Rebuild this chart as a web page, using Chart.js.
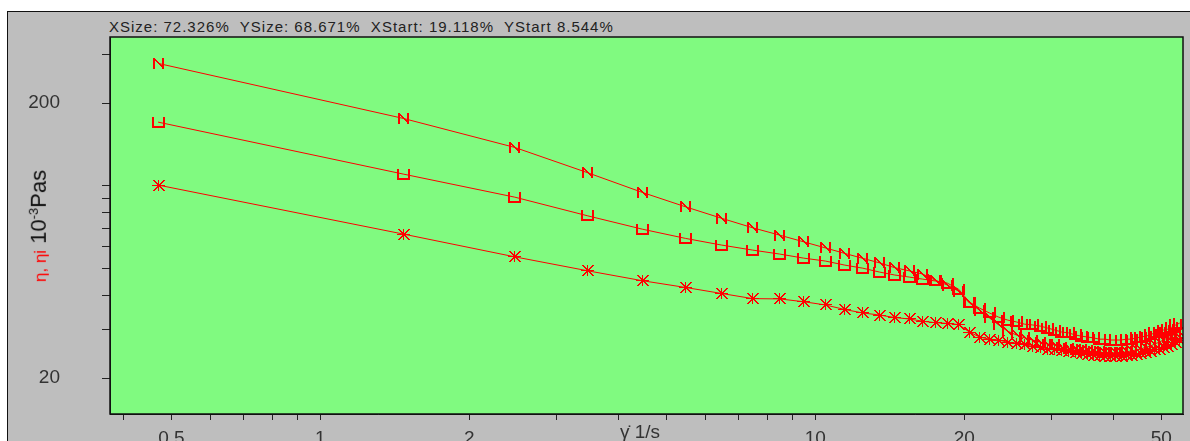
<!DOCTYPE html>
<html>
<head>
<meta charset="utf-8">
<script src="https://cdn.jsdelivr.net/npm/chart.js@4"></script>
<style>
  body { margin: 0; width: 1190px; height: 441px; overflow: hidden; background: #fff; position: relative;
         font-family: "Liberation Sans", Arial, sans-serif; }
  #panel { position: absolute; left: 7px; top: 11px; width: 1183px; height: 430px; background: #bebebe;
           border-top: 1px solid #111; border-left: 1px solid #111; }
  #chart { position: absolute; left: 0; top: 0; }
  #info { position: absolute; left: 109px; top: 18px; font-size: 15px; line-height: 17px; letter-spacing: 1px;
          color: #222; white-space: pre; }
  #ytitle { position: absolute; left: 39px; top: 226px; transform: translate(-50%, -50%) rotate(-90deg);
            white-space: nowrap; color: #111; font-size: 22px; }
  #ytitle .eta { color: #f00; font-size: 17px; }
  #ytitle sup { font-size: 13px; }
  #xtitle { position: absolute; left: 620px; top: 421px; font-size: 19px; color: #333; white-space: nowrap; }
</style>
</head>
<body>
<div id="panel"></div>
<div id="info">XSize: 72.326%  YSize: 68.671%  XStart: 19.118%  YStart 8.544%</div>
<canvas id="chart" width="1190" height="441"></canvas>
<div id="ytitle"><span class="eta">η, ηi</span> 10<sup>-3</sup>Pas</div>
<div id="xtitle">γ̇ 1/s</div>
<script>
// shear rate steps, 1/s
const shearRate = [0.47, 1.47, 2.47, 3.47, 4.47, 5.47, 6.47, 7.47, 8.47, 9.47,
  10.47, 11.47, 12.47, 13.47, 14.47, 15.47, 16.47, 17.47, 18.47, 19.47,
  20.47, 21.47, 22.47, 23.47, 24.47, 25.47, 26.47, 27.47, 28.47, 29.47,
  30.47, 31.47, 32.47, 33.47, 34.47, 35.47, 36.47, 37.47, 38.47, 39.47,
  40.47, 41.47, 42.47, 43.47, 44.47, 45.47, 46.47, 47.47, 48.47, 49.47,
  50.47, 51.47, 52.47, 53.47, 54.47];

// viscosity, 10^-3 Pas
const etaN = [279, 176, 138, 111.6, 94.7, 83.9, 76.2, 70.4, 66.2, 62.6,
  59.5, 56.8, 54.5, 52.5, 50.4, 49.1, 47.8, 45.4, 43.6, 41.4,
  37.5, 35.3, 33.1, 31.2, 29.6, 28.7, 28.0, 27.5, 27.0, 26.6,
  26.4, 25.9, 25.7, 25.5, 25.3, 25.1, 24.9, 24.9, 24.7, 24.7,
  24.7, 24.7, 24.9, 25.1, 25.3, 25.5, 25.9, 26.1, 26.6, 27.0,
  27.5, 28.0, 28.4, 29.0, 29.4];

const etaU = [170.6, 110.4, 91.0, 77.8, 69.6, 64.4, 60.9, 58.4, 56.5, 54.6,
  53.3, 51.5, 50.2, 48.6, 47.4, 46.6, 45.8, 45.1, 44.3, 42.1,
  37.8, 35.9, 34.5, 33.3, 32.5, 32.0, 31.4, 31.2, 30.9, 30.4,
  29.9, 29.4, 29.2, 28.7, 28.4, 28.2, 28.0, 27.7, 27.7, 27.5,
  27.5, 27.5, 27.7, 27.7, 28.0, 28.2, 28.4, 28.7, 29.2, 29.4,
  29.9, 30.1, 30.6, 31.2, 31.7];

const etaStar = [100.7, 66.8, 55.2, 49.1, 45.2, 42.7, 40.6, 38.9, 38.8, 37.9,
  36.9, 35.5, 34.5, 33.9, 33.2, 32.8, 32.2, 31.8, 31.6, 31.3,
  29.4, 28.2, 27.7, 27.5, 27.0, 26.8, 26.4, 26.1, 25.9, 25.5,
  25.3, 25.1, 24.9, 24.7, 24.5, 24.3, 24.1, 24.1, 23.9, 23.9,
  23.9, 23.9, 24.1, 24.1, 24.3, 24.5, 24.7, 24.9, 25.3, 25.5,
  25.9, 26.1, 26.6, 27.0, 27.5];

const xTicks = [0.4, 0.5, 0.6, 0.7, 0.8, 0.9, 1, 2, 3, 4, 5, 6, 7, 8, 9, 10, 20, 30, 40, 50];
const xLabels = [0.5, 1, 2, 10, 20, 50];
const yTicks = [20, 30, 40, 50, 60, 70, 80, 90, 100, 200, 300];
const yLabels = [200, 20];

const RED = "#ff0000";
const PLOT_BG = "rgb(128, 250, 128)";

// marker bitmaps drawn pixel by pixel so they stay solid red
function makeMarker(w, h, draw) {
  const c = document.createElement("canvas");
  c.width = w;
  c.height = h;
  const g = c.getContext("2d");
  g.fillStyle = RED;
  draw((x, y, pw, ph) => g.fillRect(x, y, pw || 1, ph || 1));
  return c;
}

const markerN = makeMarker(11, 11, px => {
  px(0, 0, 2, 11);
  px(9, 0, 2, 11);
  for (let i = 0; i < 10; i++) px(i, i, 2, 1);
});

const markerU = makeMarker(13, 11, px => {
  px(0, 0, 2, 11);
  px(11, 0, 2, 11);
  px(0, 9, 13, 2);
});

const markerStar = makeMarker(13, 13, px => {
  px(0, 6, 13, 1);
  px(6, 1, 1, 11);
  for (let i = 1; i < 12; i++) {
    px(i, i, 2, 1);
    px(i, 12 - i, 2, 1);
  }
  px(5, 5, 3, 3);
});

function serie(values, marker) {
  return {
    data: shearRate.map((x, i) => ({ x: x, y: values[i] })),
    borderColor: RED,
    borderWidth: 1,
    pointStyle: marker,
    pointRadius: 5,
    tension: 0,
    fill: false
  };
}

// green plot area and black frame
const plotFrame = {
  id: "plotFrame",
  beforeDraw(chart) {
    const a = chart.chartArea;
    const ctx = chart.ctx;
    ctx.save();
    ctx.fillStyle = PLOT_BG;
    ctx.fillRect(a.left, a.top, a.right - a.left, a.bottom - a.top);
    ctx.restore();
  },
  beforeDatasetsDraw(chart) {
    chart.ctx.imageSmoothingEnabled = false;
  },
  afterDraw(chart) {
    const a = chart.chartArea;
    const ctx = chart.ctx;
    ctx.save();
    ctx.strokeStyle = "#111";
    ctx.lineWidth = 1.5;
    ctx.strokeRect(a.left, a.top, a.right - a.left, a.bottom - a.top);
    ctx.restore();
  }
};

// fixed axis sizes, no extra room for end labels
function fitX(s) {
  s.height = 27;
  s.paddingLeft = 0;
  s.paddingRight = 0;
  s.paddingTop = 0;
  s.paddingBottom = 0;
}
function fitY(s) {
  s.width = 110;
  s.paddingLeft = 0;
  s.paddingRight = 0;
  s.paddingTop = 0;
  s.paddingBottom = 0;
}

Chart.defaults.font.family = '"Liberation Sans", Arial, sans-serif';

new Chart(document.getElementById("chart"), {
  type: "line",
  data: {
    datasets: [serie(etaN, markerN), serie(etaU, markerU), serie(etaStar, markerStar)]
  },
  options: {
    responsive: false,
    animation: false,
    layout: { padding: { top: 37, right: 7, left: 0, bottom: 0 } },
    plugins: { legend: { display: false }, tooltip: { enabled: false } },
    scales: {
      x: {
        type: "logarithmic",
        min: 0.3758,
        max: 55.3,
        afterFit: fitX,
        afterBuildTicks: s => { s.ticks = xTicks.map(v => ({ value: v })); },
        ticks: {
          autoSkip: false,
          maxRotation: 0,
          padding: 7,
          color: "#333",
          font: { size: 19 },
          callback: v => xLabels.includes(v) ? String(v) : ""
        },
        grid: { drawOnChartArea: false, tickLength: 6, color: "#222" },
        border: { color: "#111" }
      },
      y: {
        type: "logarithmic",
        min: 14.8,
        max: 348,
        afterFit: fitY,
        afterBuildTicks: s => { s.ticks = yTicks.map(v => ({ value: v })); },
        ticks: {
          autoSkip: false,
          padding: 42,
          color: "#333",
          font: { size: 19 },
          callback: v => yLabels.includes(v) ? String(v) : ""
        },
        grid: { drawOnChartArea: false, tickLength: 8, color: "#222" },
        border: { color: "#111" }
      }
    }
  },
  plugins: [plotFrame]
});
</script>
</body>
</html>
